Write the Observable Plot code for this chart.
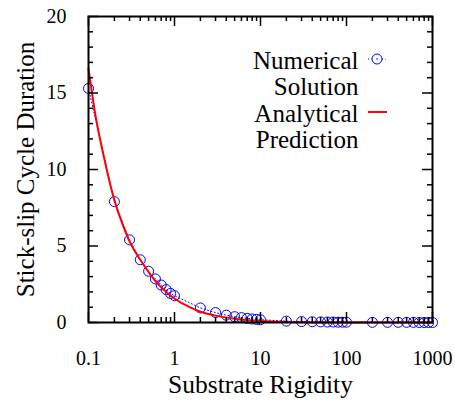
<!DOCTYPE html>
<html>
<head>
<meta charset="utf-8">
<script src="https://cdn.jsdelivr.net/npm/d3@7"></script>
<script src="https://cdn.jsdelivr.net/npm/@observablehq/plot@0.6"></script>
<style>
  html, body { margin: 0; padding: 0; background: #fff; }
  #wrap { position: relative; width: 455px; height: 405px; }
</style>
</head>
<body>
<div id="wrap"></div>
<script>
// Numerical solution
const numX = [0.1,0.2,0.3,0.4,0.5,0.6,0.7,0.8,0.9,1,2,3,4,5,6,7,8,9,10,20,30,40,50,60,70,80,90,100,200,300,400,500,600,700,800,900,1000];
const numY = [15.3,7.9,5.4,4.1,3.35,2.85,2.45,2.15,1.9,1.75,0.95,0.65,0.48,0.38,0.32,0.27,0.23,0.2,0.18,0.09,0.06,0.05,0.04,0.03,0.03,0.02,0.02,0.02,0.01,0.01,0.01,0.01,0.01,0.0,0.0,0.0,0.0];
// Analytical prediction
const anaX = [0.1,0.12,0.15,0.2,0.25,0.3,0.4,0.5,0.6,0.7,0.8,1,1.5,2,3,5,10,20,100,1000];
const anaY = [16.6,13.6,10.9,8.0,6.4,5.3,4.1,3.3,2.7,2.3,2.0,1.57,1.0,0.7,0.45,0.25,0.1,0.04,0.0,0.0];
// Axis ticks
const xMajor = [0.1,1,10,100,1000];
const xTickLabels = ["0.1","1","10","100","1000"];
const xMinor = [0.2,0.3,0.4,0.5,0.6,0.7,0.8,0.9,2,3,4,5,6,7,8,9,20,30,40,50,60,70,80,90,200,300,400,500,600,700,800,900];
const yMajor = [0,5,10,15,20];
const yMinor = [1,2,3,4,6,7,8,9,11,12,13,14,16,17,18,19];
// Legend
const legendLabels = ["Numerical\nSolution", "Analytical\nPrediction"];

const num = numX.map((x, i) => ({x, y: numY[i]}));
const ana = anaX.map((x, i) => ({x, y: anaY[i]}));

const W = 455, H = 405, mL = 88, mR = 23, mT = 16, mB = 83;
const fw = W - mL - mR, fh = H - mT - mB;

const chart = Plot.plot({
  width: W, height: H,
  marginLeft: mL, marginRight: mR, marginTop: mT, marginBottom: mB,
  style: {fontFamily: "'Liberation Serif', serif", background: "white", color: "black"},
  x: {type: "log", domain: [0.1, 1000]},
  y: {domain: [0, 20]},
  marks: [
    Plot.line(num, {x: "x", y: "y", stroke: "#0000ff", strokeWidth: 1, strokeDasharray: "1,2.5"}),
    Plot.dot(num, {x: "x", y: "y", r: 5, stroke: "#0000ff", strokeWidth: 1, fill: "none"}),
    Plot.line(ana, {x: "x", y: "y", stroke: "#ff0000", strokeWidth: 2, curve: "monotone-x"}),
    // inward ticks
    Plot.ruleX(xMajor, {x: d => d, insetTop: fh - 10, stroke: "black", strokeWidth: 1.5}),
    Plot.ruleX(xMajor, {x: d => d, insetBottom: fh - 10, stroke: "black", strokeWidth: 1.5}),
    Plot.ruleX(xMinor, {x: d => d, insetTop: fh - 5, stroke: "black", strokeWidth: 1.5}),
    Plot.ruleX(xMinor, {x: d => d, insetBottom: fh - 5, stroke: "black", strokeWidth: 1.5}),
    Plot.ruleY(yMajor, {y: d => d, insetRight: fw - 10, stroke: "black", strokeWidth: 1.5}),
    Plot.ruleY(yMajor, {y: d => d, insetLeft: fw - 10, stroke: "black", strokeWidth: 1.5}),
    Plot.ruleY(yMinor, {y: d => d, insetRight: fw - 5, stroke: "black", strokeWidth: 1.5}),
    Plot.ruleY(yMinor, {y: d => d, insetLeft: fw - 5, stroke: "black", strokeWidth: 1.5}),
    Plot.frame({stroke: "black", strokeWidth: 2}),
    Plot.axisX({ticks: xMajor, tickSize: 0, tickPadding: 28, fontSize: 20, label: null,
      tickFormat: d => xTickLabels[xMajor.indexOf(d)]}),
    Plot.axisY({ticks: yMajor, tickSize: 0, tickPadding: 22, fontSize: 20, label: null}),
    Plot.text(["Substrate Rigidity"], {frameAnchor: "bottom", dy: 70, fontSize: 25.5, fill: "black"}),
    Plot.text(["Stick-slip Cycle Duration"], {frameAnchor: "left", textAnchor: "middle", dx: -63, rotate: -90, fontSize: 25, fill: "black"}),
    // legend
    Plot.text([legendLabels[0]], {frameAnchor: "top-right", textAnchor: "end", lineAnchor: "top", dx: -74, dy: 34, fontSize: 25, lineHeight: 1.05, fill: "black"}),
    Plot.text([legendLabels[1]], {frameAnchor: "top-right", textAnchor: "end", lineAnchor: "top", dx: -74, dy: 87, fontSize: 25, lineHeight: 1.05, fill: "black"})
  ]
});

const wrap = document.getElementById("wrap");
wrap.appendChild(chart);

const ns = "http://www.w3.org/2000/svg";
const sym = document.createElementNS(ns, "svg");
sym.setAttribute("width", 30); sym.setAttribute("height", 80);
sym.style.position = "absolute"; sym.style.left = "364px"; sym.style.top = "45px";
sym.innerHTML = `
  <line x1="4" x2="22" y1="14" y2="14" stroke="#0000ff" stroke-width="1" stroke-dasharray="1,2.5"/>
  <circle cx="13" cy="14" r="5" fill="white" stroke="#0000ff" stroke-width="1"/>
  <circle cx="13" cy="14" r="0.8" fill="#0000ff"/>
  <line x1="4" x2="23" y1="67" y2="67" stroke="#ff0000" stroke-width="2"/>`;
wrap.appendChild(sym);
</script>
</body>
</html>
